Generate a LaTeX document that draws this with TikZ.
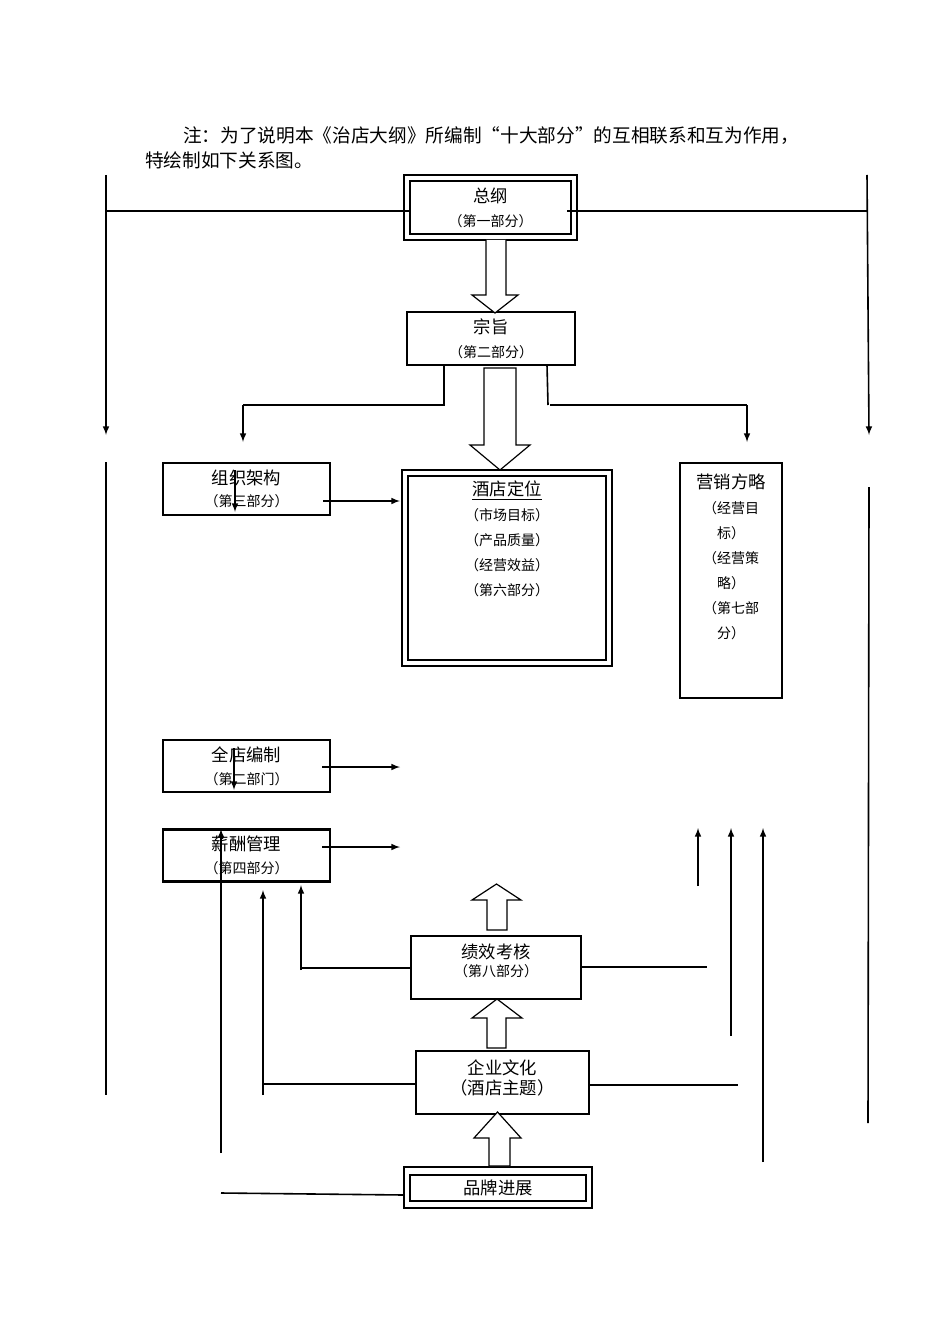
\documentclass[tikz,border=0pt]{standalone}
\usepackage{fontspec}
\setmainfont{Noto Sans CJK SC}
\usetikzlibrary{positioning}
\tikzset{
  box/.style={draw, line width=1.6pt, inner sep=0pt, align=center, font=\fontsize{13}{17}\selectfont},
  thinbox/.style={draw, line width=0.8pt, inner sep=0pt, align=center, font=\fontsize{13}{17}\selectfont},
  sub/.style={font=\fontsize{10.5}{14}\selectfont},
  link/.style={line width=1.2pt},
  arr/.style={line width=1.2pt, -latex},
  fat/.style={draw, line width=0.9pt, fill=white}
}
\newcommand*{\sm}[1]{{\fontsize{10.5}{14}\selectfont #1}}
\begin{document}
\begin{tikzpicture}[x=0.75pt,y=-0.75pt]
\useasboundingbox (0,0) rectangle (950,1344);
% the note on top
\node[anchor=base west, inner sep=0pt, font=\fontsize{14}{18}\selectfont] (note1) at (183,143) {注：为了说明本《治店大纲》所编制“十大部分”的互相联系和互为作用，};
\node[anchor=base west, inner sep=0pt, font=\fontsize{14}{18}\selectfont] (note2) at (145,168) {特绘制如下关系图。};
% first and second parts
\node[box, minimum width=129.75pt, minimum height=48.75pt] (zgOut) at (490.5,207.5) {};
\node[thinbox, minimum width=120.75pt, minimum height=39.75pt] (zg) at (490.5,207.5) {总纲\\[1pt]\sm{（第一部分）}};
\node[box, minimum width=126pt, minimum height=39.75pt] (zz) at (491,338.5) {宗旨\\[1pt]\sm{（第二部分）}};
% hotel positioning
\node[box, minimum width=157.5pt, minimum height=147pt] (jdOut) at (507,568) {};
\node[thinbox, minimum width=148.5pt, minimum height=138pt] (jd) at (507,568) {};
\node[anchor=north, align=center, inner sep=0pt, font=\fontsize{13}{18.75}\selectfont] (jdText) at (507,481)
  {\underline{酒店定位}\\\sm{（市场目标）}\\\sm{（产品质量）}\\\sm{（经营效益）}\\\sm{（第六部分）}};
\node[thinbox, line width=1.1pt, minimum width=76.5pt, minimum height=176.25pt] (yx) at (731,580.5) {};
\node[anchor=north, align=center, inner sep=0pt, font=\fontsize{13}{18.75}\selectfont] (yxText) at (731,474)
  {营销方略\\\sm{（经营目}\\\sm{标）}\\\sm{（经营策}\\\sm{略）}\\\sm{（第七部}\\\sm{分）}};
% left column
\node[box, minimum width=125.25pt, minimum height=39pt] (zj) at (246.5,489) {组织架构\\[0pt]\sm{（第三部分）}};
\node[box, minimum width=125.25pt, minimum height=39pt] (qd) at (246.5,766) {全店编制\\[0pt]\sm{（第二部门）}};
\node[box, minimum width=125.25pt, minimum height=39pt] (xc) at (246.5,855.5) {薪酬管理\\[0pt]\sm{（第四部分）}};
% bottom column
\node[thinbox, minimum width=127.5pt, minimum height=47.25pt] (jx) at (496,967.5) {};
\node[align=center, inner sep=0pt, font=\fontsize{13}{13}\selectfont] (jxText) at (496,961) {绩效考核\\\sm{（第八部分）}};
\node[thinbox, minimum width=129.75pt, minimum height=47.25pt] (qy) at (502.5,1082.5) {};
\node[align=center, inner sep=0pt, font=\fontsize{13}{15}\selectfont] (qyText) at (502.5,1078) {企业文化\\（酒店主题）};
\node[box, minimum width=141pt, minimum height=30.75pt] (ppOut) at (498,1187.5) {};
\node[thinbox, minimum width=132pt, minimum height=19.5pt] (pp) at (498,1188) {品牌进展};
% free ends
\coordinate (lTop) at (106,175);   \coordinate (lDown) at (106,435);
\coordinate (rTop) at (867,175);   \coordinate (rDown) at (869,435);
\coordinate (lBar1) at (106,462);  \coordinate (lBar2) at (106,1095);
\coordinate (rBar1) at (869,487);  \coordinate (rBar2) at (868,1123);
\coordinate (zgL) at (410,211);    \coordinate (zgR) at (567,211);
% long side lines from the first part
\draw[link] (lTop |- zgL) -- (zgL);
\draw[link] (zgR) -- (rTop |- zgR);
\draw[arr] (lTop) -- (lDown);
\draw[arr] (rTop) -- (rDown);
\draw[link] (lBar1) -- (lBar2);
\draw[link] (rBar1) -- (rBar2);
% branches under the second part
\coordinate (zzL) at (444,365); \coordinate (zzR) at (547,365);
\draw[link] (zzL) -- (444,405) -- (243,405);
\draw[arr] (243,405) -- (243,442);
\draw[link] (zzR) -- (548,405);
\draw[link] (550,405) -- (747,405);
\draw[arr] (747,405) -- (747,442);
% fat arrows
\draw[fat] (486,240) -- (486,295) -- (472,295) -- (495,313) -- (518,295) -- (506,295) -- (506,240);
\draw[fat] (484,368) -- (484,445) -- (470,445) -- (500,470) -- (530,445) -- (516,445) -- (516,368) -- cycle;
\draw[fat] (487,930) -- (487,900) -- (472,900) -- (496.5,884) -- (521,900) -- (507,900) -- (507,930) -- cycle;
\draw[fat] (487,1048) -- (487,1018) -- (472,1018) -- (497,999) -- (522,1018) -- (506,1018) -- (506,1048) -- cycle;
\draw[fat] (489,1166) -- (489,1138) -- (474,1138) -- (497.5,1112) -- (521,1138) -- (510,1138) -- (510,1166) -- cycle;
% arrows of the left column
\coordinate (jdIn) at (400,501);
\draw[arr] (323,501) -- (jdIn);
\draw[arr] (322,767) -- (400,767);
\draw[arr] (322,847) -- (400,847);
\draw[arr] (235,470) -- (235,512);
\draw[arr] (234,748) -- (234,790);
% lines back to pay management
\draw[arr] (221,1153) -- (221,829);
\draw[link] (jx.west |- 0,968) -- (301,968);
\draw[arr] (301,970) -- (301,885);
\draw[link] (qy.west |- 0,1084) -- (263,1084);
\draw[arr] (263,1095) -- (263,890);
\coordinate (ppL) at (404,1195);
\draw[link] (221,1193) -- (ppL);
% lines to the marketing part
\draw[link] (jx.east |- 0,967) -- (707,967);
\draw[link] (qy.east |- 0,1085) -- (738,1085);
\draw[arr] (698,886) -- (698,828);
\draw[arr] (731,1036) -- (731,828);
\draw[arr] (763,1162) -- (763,828);
\end{tikzpicture}
\end{document}
